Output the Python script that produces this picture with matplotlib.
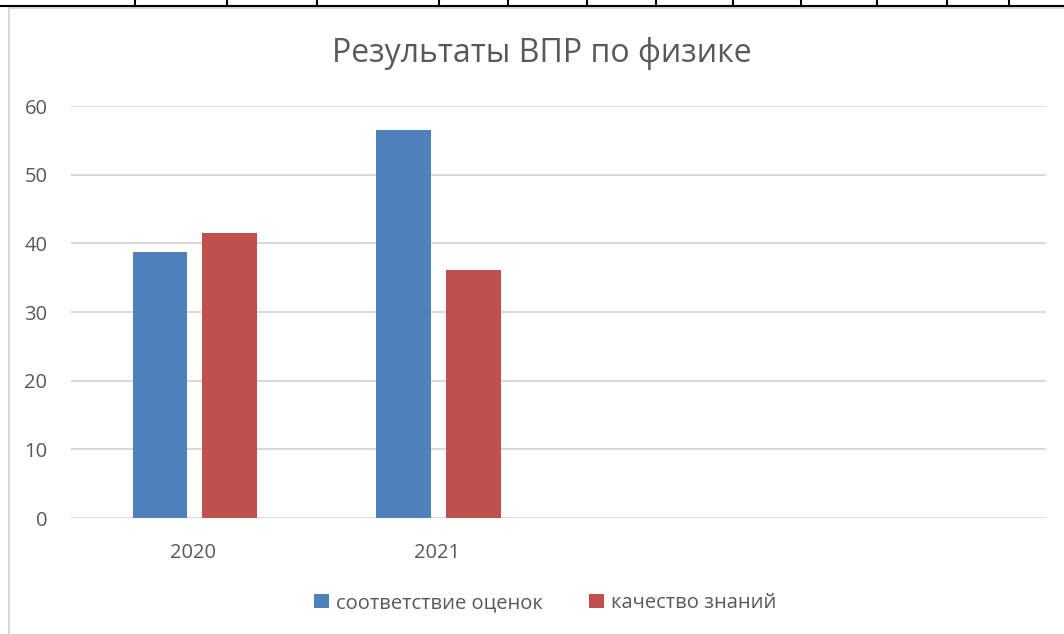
import numpy as np
import matplotlib.pyplot as plt
from matplotlib.lines import Line2D

plt.rcParams['font.family'] = ['Open Sans', 'DejaVu Sans']

# Data
years = ['2020', '2021', '', '']
match_marks = [38.7, 56.5]      # соответствие оценок
quality = [41.5, 36.1]          # качество знаний
series_names = ['соответствие оценок', 'качество знаний']

blue = '#4F81BD'
red = '#C0504D'
text_color = '#595959'
grid_color = '#D9D9D9'

fig = plt.figure(figsize=(10.64, 6.34), dpi=100)
ax = fig.add_axes([71 / 1064, 1 - 518 / 634, 975 / 1064, 412 / 634])

x = np.arange(len(years))
w = 0.224
off = 0.143
ax.bar(x[:len(match_marks)] - off + 0.008, match_marks, w, color=blue, label=series_names[0], zorder=3)
ax.bar(x[:len(quality)] + off + 0.008, quality, w, color=red, label=series_names[1], zorder=3)

ax.set_xlim(-0.5, len(years) - 0.5)
ax.set_ylim(0, 60)
ax.set_yticks(range(0, 61, 10))
ax.set_xticks(x)
ax.set_xticklabels(years)
ax.grid(axis='y', color=grid_color, linewidth=1.5, zorder=0)
for s in ax.spines.values():
    s.set_visible(False)
ax.tick_params(length=0, colors=text_color, labelsize=14.5)
ax.tick_params(axis='y', pad=17)
ax.tick_params(axis='x', pad=18)

fig.text(0.509, 1 - 53 / 634, 'Результаты ВПР по физике', ha='center', va='center',
         fontsize=23, color=text_color)

ax.legend(loc='center', bbox_to_anchor=(545 / 1064, 1 - 603 / 634), bbox_transform=fig.transFigure,
          ncol=2, frameon=False, fontsize=14.5, labelcolor=text_color,
          handlelength=0.75, handleheight=0.75, handletextpad=0.35, columnspacing=2.3)

# chart frame and spreadsheet cell borders above it
fig.add_artist(Line2D([9 / 1064, 9 / 1064], [0, 1 - 8 / 634], color='#D9D9D9', linewidth=1.5))
fig.add_artist(Line2D([9 / 1064, 1], [1 - 8 / 634, 1 - 8 / 634], color='#D9D9D9', linewidth=1.5))
fig.add_artist(Line2D([0, 1], [1 - 6 / 634, 1 - 6 / 634], color='black', linewidth=1.5))
for cx in [135, 227, 317, 439, 508, 587, 656, 733, 801, 877, 947, 1009]:
    fig.add_artist(Line2D([cx / 1064, cx / 1064], [1 - 6 / 634, 1], color='black', linewidth=1.5))

fig.savefig('out.png', dpi=100)
